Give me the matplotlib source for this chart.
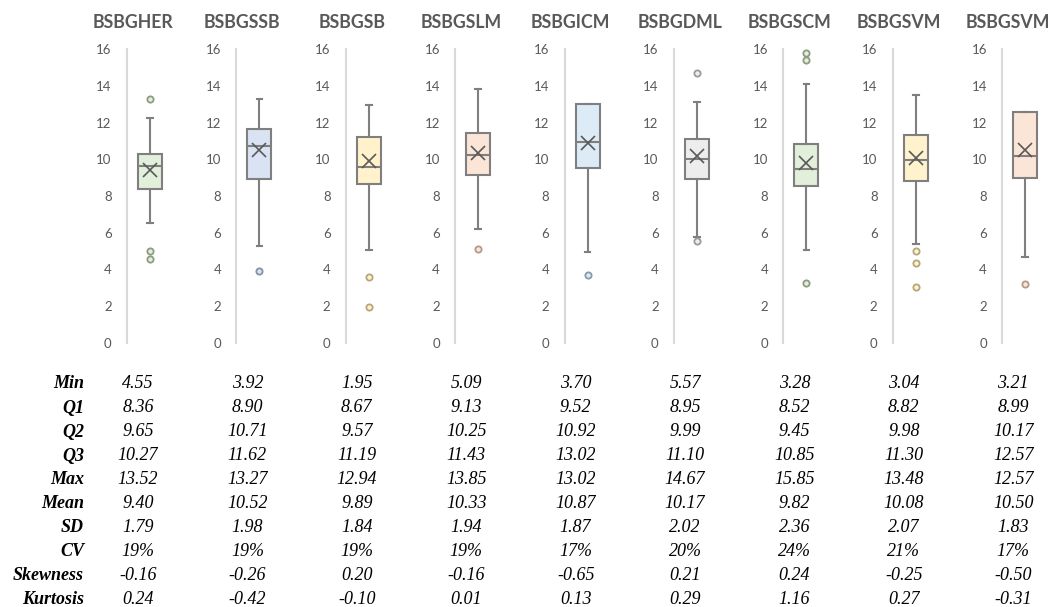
import matplotlib.pyplot as plt

# variables and summary statistics
names = ["BSBGHER", "BSBGSSB", "BSBGSB", "BSBGSLM", "BSBGICM",
         "BSBGDML", "BSBGSCM", "BSBGSVM", "BSBGSVM"]
v_min = [4.55, 3.92, 1.95, 5.09, 3.70, 5.57, 3.28, 3.04, 3.21]
q1 = [8.36, 8.90, 8.67, 9.13, 9.52, 8.95, 8.52, 8.82, 8.99]
q2 = [9.65, 10.71, 9.57, 10.25, 10.92, 9.99, 9.45, 9.98, 10.17]
q3 = [10.27, 11.62, 11.19, 11.43, 13.02, 11.10, 10.85, 11.30, 12.57]
v_max = [13.52, 13.27, 12.94, 13.85, 13.02, 14.67, 15.85, 13.48, 12.57]
mean = [9.40, 10.52, 9.89, 10.33, 10.87, 10.17, 9.82, 10.08, 10.50]
sd = [1.79, 1.98, 1.84, 1.94, 1.87, 2.02, 2.36, 2.07, 1.83]
cv = ["19%", "19%", "19%", "19%", "17%", "20%", "24%", "21%", "17%"]
skew = [-0.16, -0.26, 0.20, -0.16, -0.65, 0.21, 0.24, -0.25, -0.50]
kurt = [0.24, -0.42, -0.10, 0.01, 0.13, 0.29, 1.16, 0.27, -0.31]

# whisker ends and outlying points of each box
whis_lo = [6.55, 5.27, 5.05, 6.22, 4.96, 5.76, 5.05, 5.40, 4.67]
whis_hi = [12.27, 13.27, 12.94, 13.85, 13.02, 13.13, 14.09, 13.48, 12.57]
fliers = [[4.55, 5.0, 13.3], [3.92], [1.95, 3.6], [5.09], [3.70],
          [5.57, 14.67], [3.28, 15.4, 15.8], [3.04, 4.36, 5.0], [3.21]]

fills = ["#E2EFDA", "#DAE3F3", "#FFF2CC", "#FBE5D6", "#DDEBF7",
         "#EDEDED", "#E2EFDA", "#FFF2CC", "#FBE5D6"]
edges = ["#8E9A84", "#8792A6", "#B5A77C", "#B39A8C", "#8A9AAA",
         "#9A9A9A", "#8E9A84", "#B5A77C", "#B39A8C"]

W, H = 1053, 607
fig = plt.figure(figsize=(W / 100, H / 100), dpi=100)
grey = "#7F7F7F"

x0, step = 127, 109.4
y_top, y_bot = 49, 343
for i, name in enumerate(names):
    left = x0 + i * step
    ax = fig.add_axes([left / W, (H - y_bot) / H, 46 / W, (y_bot - y_top) / H])
    stats = [dict(med=q2[i], q1=q1[i], q3=q3[i], whislo=whis_lo[i],
                  whishi=whis_hi[i], mean=mean[i], fliers=fliers[i])]
    ax.bxp(stats, positions=[0.5], widths=0.52, showmeans=True,
           patch_artist=True, manage_ticks=False,
           boxprops=dict(facecolor=fills[i], edgecolor=grey, linewidth=1.5),
           medianprops=dict(color=grey, linewidth=1.5),
           whiskerprops=dict(color=grey, linewidth=1.5),
           capprops=dict(color=grey, linewidth=1.5),
           capwidths=0.12,
           meanprops=dict(marker="x", markersize=10, markeredgecolor="#595959",
                          markeredgewidth=1.2),
           flierprops=dict(marker="o", markersize=4.5, markerfacecolor=fills[i],
                           markeredgecolor=edges[i], markeredgewidth=1.3))
    ax.set_xlim(0, 1)
    ax.set_ylim(0, 16)
    ax.set_yticks(range(0, 17, 2))
    ax.set_xticks([])
    for s in ["top", "right", "bottom"]:
        ax.spines[s].set_visible(False)
    ax.spines["left"].set_color("#D9D9D9")
    ax.spines["left"].set_linewidth(1.5)
    ax.tick_params(axis="y", length=0, pad=11, labelsize=9.5, labelcolor="#595959")
    for lab in ax.get_yticklabels():
        lab.set_fontfamily("Lato")
    ax.patch.set_alpha(0)
    fig.text((left + 6) / W, 1 - 22 / H, name, ha="center", va="center",
             fontsize=12.8, fontweight="bold", color="#595959", family="Lato")

# statistics table below the plots
rows = [("Min", [f"{v:.2f}" for v in v_min]),
        ("Q1", [f"{v:.2f}" for v in q1]),
        ("Q2", [f"{v:.2f}" for v in q2]),
        ("Q3", [f"{v:.2f}" for v in q3]),
        ("Max", [f"{v:.2f}" for v in v_max]),
        ("Mean", [f"{v:.2f}" for v in mean]),
        ("SD", [f"{v:.2f}" for v in sd]),
        ("CV", cv),
        ("Skewness", [f"{v:.2f}" for v in skew]),
        ("Kurtosis", [f"{v:.2f}" for v in kurt])]
for r, (label, vals) in enumerate(rows):
    y = 1 - (384 + r * 24) / H
    fig.text(84 / W, y, label, ha="right", va="center", fontsize=13,
             fontweight="bold", style="italic", family="Liberation Serif")
    for i, v in enumerate(vals):
        fig.text((x0 + 11 + i * step) / W, y, v, ha="center", va="center",
                 fontsize=13, style="italic", family="Liberation Serif")

fig.savefig("out.png", dpi=100)
